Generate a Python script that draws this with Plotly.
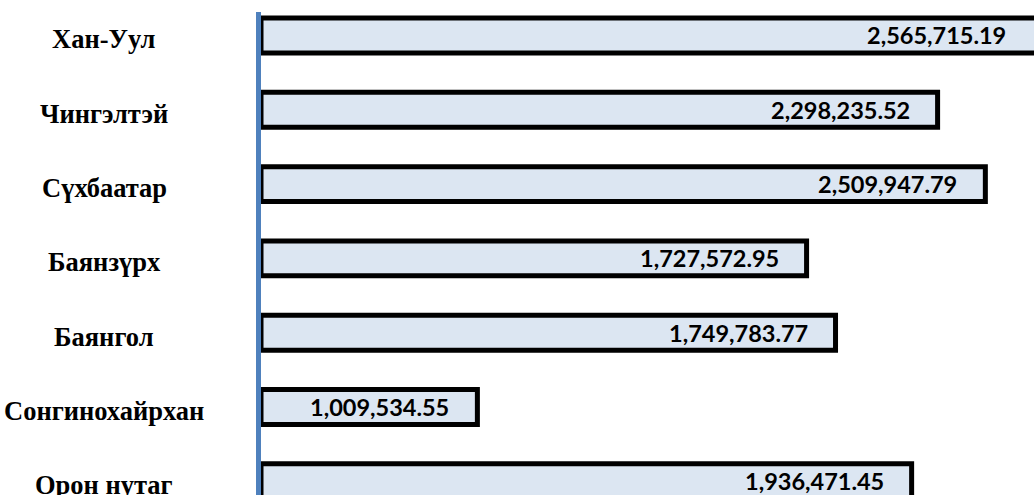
import plotly.graph_objects as go

# Districts (top to bottom)
districts = ["Хан-Уул", "Чингэлтэй", "Сүхбаатар", "Баянзүрх", "Баянгол", "Сонгинохайрхан", "Орон нутаг"]
# Printed values shown inside each bar
value_labels = ["2,565,715.19", "2,298,235.52", "2,509,947.79", "1,727,572.95",
                "1,749,783.77", "1,009,534.55", "1,936,471.45"]
# Bar lengths as drawn in the picture (estimated, same units)
bar_lengths = [2600000, 2267000, 2427000, 1828000, 1925000, 725000, 2180000]

x_max = 2590000

fig = go.Figure()
fig.add_trace(go.Bar(
    y=districts,
    x=bar_lengths,
    orientation="h",
    marker=dict(color="#dce6f2", line=dict(color="#000000", width=5)),
    hoverinfo="skip",
))

annotations = []
for name, length, lab in zip(districts, bar_lengths, value_labels):
    annotations.append(dict(
        x=min(length, x_max), y=name, xref="x", yref="y",
        text=lab, showarrow=False, xanchor="right", yanchor="middle",
        xshift=-26,
        font=dict(family="Lato", size=23.5, color="#000000", weight="bold"),
    ))
    annotations.append(dict(
        x=-0.203, y=name, xref="paper", yref="y",
        text=name, showarrow=False, xanchor="center", yanchor="middle",
        yshift=-4,
        font=dict(family="Liberation Serif", size=26.5, color="#000000", weight="bold"),
    ))

fig.update_layout(
    width=1034, height=495,
    margin=dict(l=261, r=0, t=12, b=0),
    paper_bgcolor="white", plot_bgcolor="white",
    showlegend=False,
    bargap=0.53,
    annotations=annotations,
    xaxis=dict(range=[0, x_max], showgrid=False, zeroline=False,
               showticklabels=False, showline=False, ticks=""),
    yaxis=dict(range=[6.184, -0.316], showgrid=False, zeroline=False,
               showticklabels=False, ticks="", showline=True,
               linecolor="#4f81bd", linewidth=5, layer="below traces"),
)

fig.write_html("out.html", config={"displayModeBar": False},
               post_script="document.body.style.margin='0';")
